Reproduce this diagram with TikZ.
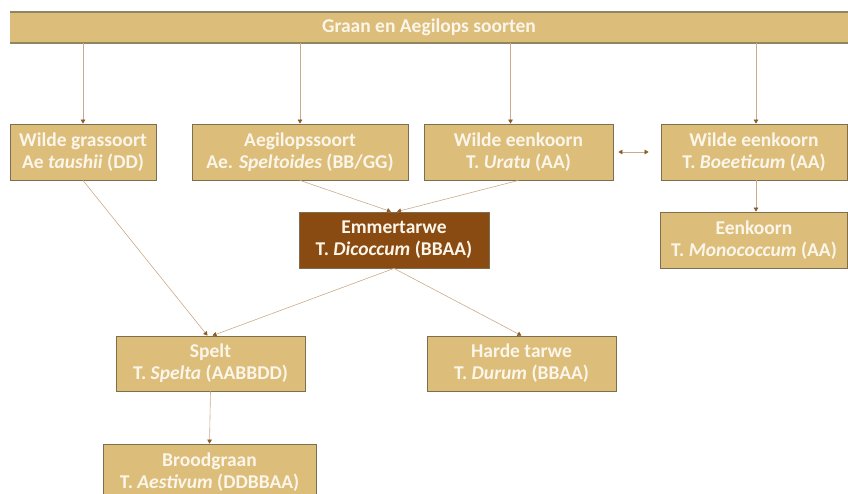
\documentclass[tikz,border=0pt]{standalone}
\usepackage{fontspec}
\setmainfont{Carlito}
\usetikzlibrary{arrows.meta}
\definecolor{tanfill}{HTML}{DCBE7A}
\definecolor{tanborder}{HTML}{7D6E4E}
\definecolor{barline}{HTML}{8E8661}
\definecolor{emmerfill}{HTML}{8A4B12}
\definecolor{linec}{HTML}{C9AA8A}
\definecolor{tipc}{HTML}{8B5A2B}
\definecolor{lighttext}{HTML}{FBF5EA}
\begin{document}
\begin{tikzpicture}[x=1pt,y=-1pt,
  box/.style={rectangle, draw=tanborder, line width=0.8pt, fill=tanfill, text=lighttext,
    font=\fontsize{19.5}{22}\selectfont\bfseries, align=center, inner sep=0pt,
    minimum height=56pt},
  emmerbox/.style={box, fill=emmerfill},
  conn/.style={draw=linec, line width=0.6pt, -{Triangle[length=4pt,width=4.5pt,color=tipc]}},
  dconn/.style={draw=linec, line width=0.6pt, {Triangle[length=4pt,width=4.5pt,color=tipc]}-{Triangle[length=4pt,width=4.5pt,color=tipc]}}
]
\useasboundingbox (0,0) rectangle (848,493);
% top bar
\node[rectangle, fill=tanfill, minimum width=838pt, minimum height=31pt, inner sep=0pt,
  text=lighttext, font=\fontsize{19.5}{22}\selectfont\bfseries] (bar) at (429,27.5) {Graan en Aegilops soorten};
\draw[barline, line width=1.6pt] (bar.north west) -- (bar.north east);
\draw[barline, line width=1.6pt] (bar.south west) -- (bar.south east);

% boxes
\node[box, minimum width=146pt] (wg) at (83,152) {Wilde grassoort\\Ae \textit{taushii} (DD)};
\node[box, minimum width=216pt] (ae) at (300,152) {Aegilopssoort\\Ae. \textit{Speltoides} (BB/GG)};
\node[box, minimum width=189pt] (ur) at (518.5,152) {Wilde eenkoorn\\T. \textit{Uratu} (AA)};
\node[box, minimum width=186pt] (bo) at (754,152) {Wilde eenkoorn\\T. \textit{Boeeticum} (AA)};
\node[emmerbox, minimum width=190pt] (em) at (394,240) {Emmertarwe\\T. \textit{Dicoccum} (BBAA)};
\node[box, minimum width=187pt] (ek) at (754,240) {Eenkoorn\\T. \textit{Monococcum} (AA)};
\node[box, minimum width=189pt, minimum height=55pt] (sp) at (210.5,363.5) {Spelt\\T. \textit{Spelta} (AABBDD)};
\node[box, minimum width=189pt, minimum height=55pt] (hd) at (521.5,363.5) {Harde tarwe\\T. \textit{Durum} (BBAA)};
\node[box, minimum width=213pt] (br) at (209.5,472) {Broodgraan\\T. \textit{Aestivum} (DDBBAA)};

% connectors
\draw[conn] (bar.south -| wg.north) -- (wg.north);
\draw[conn] (bar.south -| ae.north) -- (ae.north);
\draw[conn] ([xshift=-8pt]bar.south -| ur.north) -- ([xshift=-8pt]ur.north);
\draw[conn] ([xshift=2pt]bar.south -| bo.north) -- ([xshift=2pt]bo.north);
\draw[conn] ([xshift=2pt]bo.south) -- ([xshift=2pt]ek.north);
\draw[dconn] ([xshift=5pt]ur.east) -- ([xshift=-12pt]bo.west);
\draw[conn] (wg.south) -- ([xshift=-3pt]sp.north);
\draw[conn] (ae.south) -- ([xshift=-3pt]em.north);
\draw[conn] (ur.south) -- ([xshift=3pt]em.north);
\draw[conn] (em.south) -- ([xshift=2pt]sp.north);
\draw[conn] (em.south) -- (hd.north);
\draw[conn] (sp.south) -- (br.north);
\end{tikzpicture}
\end{document}
